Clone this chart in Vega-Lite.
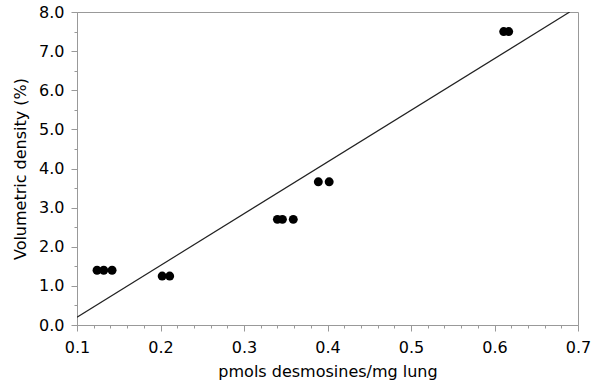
{
  "$schema": "https://vega.github.io/schema/vega-lite/v6.json",
  "autosize": {"type": "none"},
  "width": 501,
  "height": 313,
  "padding": {"left": 77, "top": 12, "right": 22, "bottom": 65},
  "background": "white",
  "config": {
    "view": {"stroke": "#999999", "strokeWidth": 1},
    "font": "DejaVu Sans",
    "axis": {
      "grid": false,
      "domainColor": "#999999",
      "tickColor": "#999999",
      "labelColor": "black",
      "titleColor": "black",
      "labelFont": "DejaVu Sans",
      "titleFont": "DejaVu Sans",
      "labelFontSize": 16,
      "titleFontSize": 16,
      "titleFontWeight": "normal",
      "labelOverlap": false,
      "labelBound": false,
      "tickCount": 100
    }
  },
  "datasets": {
    "points": [
      {"x": 0.124, "y": 1.4},
      {"x": 0.132, "y": 1.4},
      {"x": 0.142, "y": 1.4},
      {"x": 0.202, "y": 1.25},
      {"x": 0.211, "y": 1.25},
      {"x": 0.34, "y": 2.7},
      {"x": 0.346, "y": 2.7},
      {"x": 0.359, "y": 2.7},
      {"x": 0.389, "y": 3.66},
      {"x": 0.402, "y": 3.66},
      {"x": 0.611, "y": 7.5},
      {"x": 0.617, "y": 7.5}
    ],
    "fit": [
      {"x": 0.1, "y": 0.2},
      {"x": 0.69, "y": 8.0}
    ]
  },
  "layer": [
    {
      "data": {"name": "fit"},
      "mark": {"type": "line", "color": "#222222", "strokeWidth": 1.2, "clip": true},
      "encoding": {
        "x": {
          "field": "x", "type": "quantitative",
          "scale": {"domain": [0.1, 0.7], "nice": false, "zero": false},
          "axis": {
            "title": "pmols desmosines/mg lung",
            "titlePadding": 8,
            "tickCount": 100,
            "values": [0.1,0.12,0.14,0.16,0.18,0.2,0.22,0.24,0.26,0.28,0.3,0.32,0.34,0.36,0.38,0.4,0.42,0.44,0.46,0.48,0.5,0.52,0.54,0.56,0.58,0.6,0.62,0.64,0.66,0.68,0.7],
            "labelExpr": "abs(datum.value*10 - round(datum.value*10)) < 0.001 ? format(datum.value, '.1f') : ''",
            "tickSize": {"condition": {"test": "abs(datum.value*10 - round(datum.value*10)) < 0.001", "value": 6}, "value": 3},
            "labelPadding": 8,
            "labelFlush": false
          }
        },
        "y": {
          "field": "y", "type": "quantitative",
          "scale": {"domain": [0, 8], "nice": false},
          "axis": {
            "title": "Volumetric density (%)",
            "titlePadding": 10,
            "tickCount": 100,
            "values": [0,0.5,1,1.5,2,2.5,3,3.5,4,4.5,5,5.5,6,6.5,7,7.5,8],
            "labelExpr": "abs(datum.value - round(datum.value)) < 0.001 ? format(datum.value, '.1f') : ''",
            "tickSize": {"condition": {"test": "abs(datum.value - round(datum.value)) < 0.001", "value": 6}, "value": 3},
            "labelPadding": 7,
            "labelFlush": false
          }
        }
      }
    },
    {
      "data": {"name": "points"},
      "mark": {"type": "circle", "color": "black", "opacity": 1, "size": 80},
      "encoding": {
        "x": {"field": "x", "type": "quantitative"},
        "y": {"field": "y", "type": "quantitative"}
      }
    }
  ]
}
